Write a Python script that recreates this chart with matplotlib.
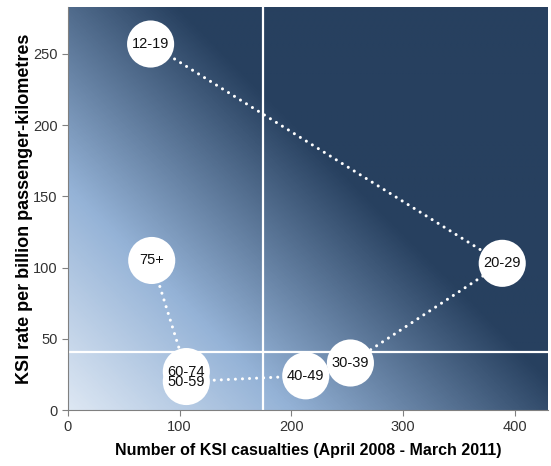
import numpy as np
import matplotlib.pyplot as plt
from matplotlib.colors import LinearSegmentedColormap

plt.rcParams['font.family'] = ['Liberation Sans', 'DejaVu Sans']

# age groups, in the order the dotted path joins them
age_groups = ["12-19", "20-29", "30-39", "40-49", "50-59", "60-74", "75+"]
ksi_casualties = [74, 389, 253, 213, 106, 106, 75]
ksi_rate = [257, 103, 33, 24, 20, 27, 105]

avg_casualties = 175
avg_rate = 41

x_ticks = [0, 100, 200, 300, 400]
y_ticks = [0, 50, 100, 150, 200, 250]

fig = plt.figure(figsize=(5.51, 4.66), dpi=100)
ax = fig.add_axes([68/551, (466-410)/466, 480/551, 403/466])

# diagonal background gradient (light bottom-left -> navy top-right)
W, H = 480, 403
u = np.linspace(0, 1, 400)
v = np.linspace(0, 1, 400)
U, V = np.meshgrid(u, v)
T = (U * W + V * H) / (W + H)
cmap = LinearSegmentedColormap.from_list(
    "bg", [(0.0, "#dde7f3"), (0.25, "#95b3d7"), (0.58, "#27405f"), (1.0, "#27405f")])
ax.imshow(T, cmap=cmap, origin="lower", extent=[0, 1, 0, 1],
          transform=ax.transAxes, aspect="auto", zorder=0, vmin=0, vmax=1)

ax.axvline(avg_casualties, color="white", lw=1.6, zorder=1)
ax.axhline(avg_rate, color="white", lw=1.6, zorder=1)

ax.plot(ksi_casualties, ksi_rate, color="white", lw=2.2,
        linestyle=(0, (0.01, 2.3)), dash_capstyle="round", zorder=2)
ax.scatter(ksi_casualties, ksi_rate, s=1150, color="white",
           edgecolors="none", zorder=3)
for lbl, x, y in zip(age_groups, ksi_casualties, ksi_rate):
    ax.text(x, y, lbl, ha="center", va="center", fontsize=10.5, color="#111111", zorder=4)

ax.set_xlim(0, 430)
ax.set_ylim(0, 283)
ax.set_xticks(x_ticks)
ax.set_yticks(y_ticks)
ax.tick_params(labelsize=10.5, colors="#333333", length=4, color="#808080")
for s in ["top", "right"]:
    ax.spines[s].set_visible(False)
for s in ["left", "bottom"]:
    ax.spines[s].set_color("#808080")

ax.set_xlabel("Number of KSI casualties (April 2008 - March 2011)",
              fontsize=11.5, fontweight="bold", labelpad=6)
ax.set_ylabel("KSI rate per billion passenger-kilometres",
              fontsize=13, fontweight="bold", labelpad=0)

fig.savefig("out.png", dpi=100)
